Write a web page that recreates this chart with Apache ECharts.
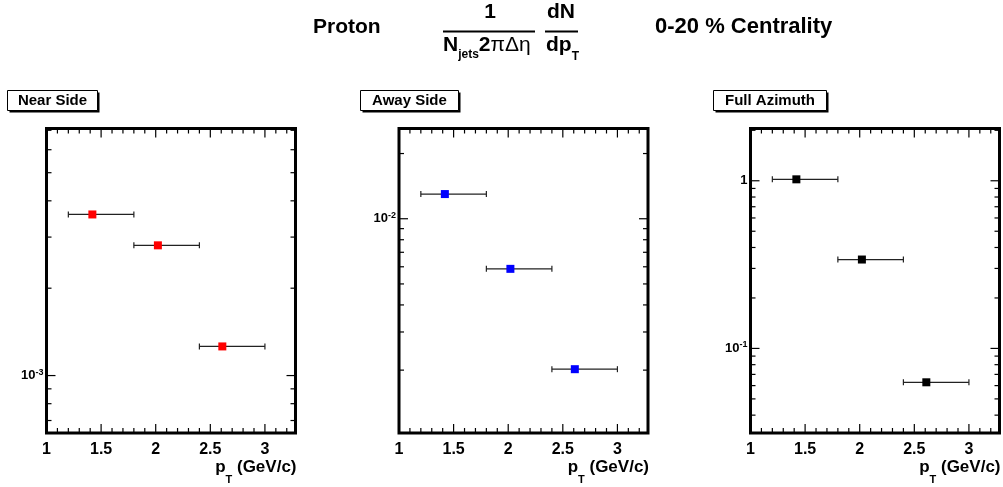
<!DOCTYPE html>
<html>
<head>
<meta charset="utf-8">
<script src="https://cdn.jsdelivr.net/npm/echarts@6/dist/echarts.min.js"></script>
<style>
html, body { margin: 0; padding: 0; background: #fff; }
#chart { width: 1003px; height: 487px; }
</style>
</head>
<body>
<div id="chart"></div>
<script>
// pT bins (GeV/c)
const ptCenter = [1.42, 2.02, 2.61];
const ptLow = [1.2, 1.8, 2.4];
const ptHigh = [1.8, 2.4, 3.0];

// 1/Njets 1/(2pi deta) dN/dpT per panel
const nearSide = [3.59e-3, 2.81e-3, 1.26e-3];
const awaySide = [1.30e-2, 5.87e-3, 2.02e-3];
const fullAzimuth = [1.02, 0.339, 0.0628];

const panelNames = ['Near Side', 'Away Side', 'Full Azimuth'];
const panelColors = ['#ff0000', '#0000ff', '#000000'];

const yRanges = [[6.34e-4, 7.1e-3], [1.025e-3, 2.61e-2], [0.0313, 2.05]];
const yMajorTicks = [[1e-3], [1e-2], [0.1, 1]];
const yMinorTicks = [
  [7e-4, 8e-4, 9e-4, 2e-3, 3e-3, 4e-3, 5e-3, 6e-3, 7e-3],
  [2e-3, 3e-3, 4e-3, 5e-3, 6e-3, 7e-3, 8e-3, 9e-3, 2e-2],
  [0.04, 0.05, 0.06, 0.07, 0.08, 0.09, 0.2, 0.3, 0.4, 0.5, 0.6, 0.7, 0.8, 0.9, 2]
];
const xMajorTicks = [1, 1.5, 2, 2.5, 3];
const xMinorTicks = [1.1, 1.2, 1.3, 1.4, 1.6, 1.7, 1.8, 1.9, 2.1, 2.2, 2.3, 2.4,
  2.6, 2.7, 2.8, 2.9, 3.1, 3.2];
const xMin = 1;
const xMax = 3.28;

const panelValues = [nearSide, awaySide, fullAzimuth];
const gridLefts = [46.5, 399, 750.5];
const FONT = 'Liberation Sans, Arial, Helvetica, sans-serif';

let chart = echarts.init(document.getElementById('chart'));

function renderErrorBar(params, api) {
  let y = api.value(2);
  let p1 = api.coord([api.value(0), y]);
  let p2 = api.coord([api.value(1), y]);
  let style = { stroke: '#222', lineWidth: 1.2 };
  return {
    type: 'group',
    children: [
      { type: 'line', shape: { x1: p1[0], y1: p1[1], x2: p2[0], y2: p2[1] }, style },
      { type: 'line', shape: { x1: p1[0], y1: p1[1] - 3, x2: p1[0], y2: p1[1] + 3 }, style },
      { type: 'line', shape: { x1: p2[0], y1: p2[1] - 3, x2: p2[0], y2: p2[1] + 3 }, style }
    ]
  };
}

function renderYTick(params, api) {
  let cs = params.coordSys;
  let y = api.coord([api.value(0), api.value(1)])[1];
  let len = api.value(2) ? 9 : 5;
  let style = { stroke: '#000', lineWidth: 1.2 };
  return {
    type: 'group',
    children: [
      { type: 'line', shape: { x1: cs.x, y1: y, x2: cs.x + len, y2: y }, style },
      { type: 'line', shape: { x1: cs.x + cs.width - len, y1: y, x2: cs.x + cs.width, y2: y }, style }
    ]
  };
}

function renderXTick(params, api) {
  let cs = params.coordSys;
  let x = api.coord([api.value(0), api.value(1)])[0];
  let len = api.value(2) ? 9 : 5;
  let style = { stroke: '#000', lineWidth: 1.2 };
  let bottom = cs.y + cs.height;
  return {
    type: 'group',
    children: [
      { type: 'line', shape: { x1: x, y1: bottom, x2: x, y2: bottom - len }, style },
      { type: 'line', shape: { x1: x, y1: cs.y, x2: x, y2: cs.y + len }, style }
    ]
  };
}

function yLabel(v) {
  let e = Math.log10(v);
  let r = Math.round(e);
  if (Math.abs(e - r) > 1e-6) return '';
  if (r === 0) return '{b|1}';
  return '{b|10}{s|' + r + '}';
}

function xLabel(v) {
  for (let t of xMajorTicks) {
    if (Math.abs(v - t) < 1e-6) return String(t);
  }
  return '';
}

let grid = [], xAxis = [], yAxis = [], series = [], graphic = [];

panelValues.forEach((vals, i) => {
  grid.push({
    left: gridLefts[i], top: 128.5, width: 249, height: 304.5,
    show: true, borderColor: '#000', borderWidth: 3, backgroundColor: 'transparent',
    containLabel: false, outerBoundsMode: 'none'
  });
  xAxis.push({
    type: 'value', gridIndex: i, min: xMin, max: xMax, interval: 0.5,
    axisLine: { show: false }, axisTick: { show: false }, splitLine: { show: false },
    axisLabel: {
      margin: 9, color: '#000', fontFamily: FONT, fontWeight: 'bold', fontSize: 16,
      formatter: xLabel
    }
  });
  yAxis.push({
    type: 'log', logBase: 10, gridIndex: i, min: yRanges[i][0], max: yRanges[i][1],
    axisLine: { show: false }, axisTick: { show: false }, splitLine: { show: false },
    axisLabel: {
      margin: 3, color: '#000', fontFamily: FONT, fontWeight: 'bold',
      formatter: yLabel,
      rich: {
        b: { fontSize: 13, fontWeight: 'bold', fontFamily: FONT, color: '#000', lineHeight: 16 },
        s: { fontSize: 9, fontWeight: 'bold', fontFamily: FONT, color: '#000', verticalAlign: 'top', lineHeight: 16 }
      }
    }
  });

  series.push({
    type: 'custom', xAxisIndex: i, yAxisIndex: i, silent: true, z: 3,
    renderItem: renderErrorBar, encode: { x: [0, 1], y: 2 },
    data: vals.map((v, k) => [ptLow[k], ptHigh[k], v])
  });
  series.push({
    type: 'scatter', xAxisIndex: i, yAxisIndex: i, z: 4,
    symbol: 'rect', symbolSize: 8, itemStyle: { color: panelColors[i], opacity: 1 },
    data: vals.map((v, k) => [ptCenter[k], v])
  });
  series.push({
    type: 'custom', xAxisIndex: i, yAxisIndex: i, silent: true, z: 5,
    renderItem: renderYTick, encode: { x: 0, y: 1 },
    data: yMajorTicks[i].map(v => [xMin, v, 1]).concat(yMinorTicks[i].map(v => [xMin, v, 0]))
  });
  series.push({
    type: 'custom', xAxisIndex: i, yAxisIndex: i, silent: true, z: 5,
    renderItem: renderXTick, encode: { x: 0, y: 1 },
    data: xMajorTicks.map(v => [v, yRanges[i][0], 1]).concat(xMinorTicks.map(v => [v, yRanges[i][0], 0]))
  });

  // x axis title
  graphic.push({
    type: 'text', right: 1003 - (gridLefts[i] + 250), top: 459,
    style: {
      text: '{a|p}{t|T}{a| (GeV/c)}', fill: '#000',
      rich: {
        a: { fontSize: 17, fontWeight: 'bold', fontFamily: FONT, lineHeight: 20, verticalAlign: 'top' },
        t: { fontSize: 11, fontWeight: 'bold', fontFamily: FONT, lineHeight: 20, verticalAlign: 'bottom', padding: [0, 0, -6, 0] }
      }
    }
  });
});

// panel label boxes
const boxSpecs = [[7, 90, 90], [360, 90, 98], [713, 90, 113]];
boxSpecs.forEach((b, i) => {
  graphic.push({
    type: 'group', left: b[0], top: b[1],
    children: [
      { type: 'rect', shape: { x: 2, y: 2, width: b[2], height: 20 }, style: { fill: '#000' } },
      { type: 'rect', shape: { x: 0, y: 0, width: b[2], height: 20 }, style: { fill: '#fff', stroke: '#000', lineWidth: 1 } },
      {
        type: 'text', x: b[2] / 2, y: 10.5,
        style: { text: panelNames[i], fill: '#000', font: 'bold 15px ' + FONT, align: 'center', verticalAlign: 'middle' }
      }
    ]
  });
});

// title
const titleFont = 'bold 21px ' + FONT;
graphic.push(
  { type: 'text', x: 313, y: 27, style: { text: 'Proton', font: titleFont, fill: '#000', verticalAlign: 'middle' } },
  { type: 'text', x: 490, y: 12, style: { text: '1', font: titleFont, fill: '#000', align: 'center', verticalAlign: 'middle' } },
  { type: 'line', shape: { x1: 443, y1: 31.5, x2: 535, y2: 31.5 }, style: { stroke: '#000', lineWidth: 2 } },
  {
    type: 'text', x: 443, y: 35,
    style: {
      text: '{n|N}{s|jets}{n|2}{g|πΔη}', fill: '#000',
      rich: {
        n: { fontSize: 21, fontWeight: 'bold', fontFamily: FONT, lineHeight: 22, verticalAlign: 'top' },
        s: { fontSize: 12, fontWeight: 'bold', fontFamily: FONT, lineHeight: 22, verticalAlign: 'bottom', padding: [0, 0, -4, 0] },
        g: { fontSize: 21, fontFamily: FONT, lineHeight: 22, verticalAlign: 'top' }
      }
    }
  },
  { type: 'text', x: 561, y: 12, style: { text: 'dN', font: titleFont, fill: '#000', align: 'center', verticalAlign: 'middle' } },
  { type: 'line', shape: { x1: 545, y1: 31.5, x2: 578, y2: 31.5 }, style: { stroke: '#000', lineWidth: 2 } },
  {
    type: 'text', x: 546, y: 35,
    style: {
      text: '{n|dp}{s|T}', fill: '#000',
      rich: {
        n: { fontSize: 21, fontWeight: 'bold', fontFamily: FONT, lineHeight: 22, verticalAlign: 'top' },
        s: { fontSize: 12, fontWeight: 'bold', fontFamily: FONT, lineHeight: 22, verticalAlign: 'bottom', padding: [0, 0, -6, 0] }
      }
    }
  },
  { type: 'text', x: 655, y: 27, style: { text: '0-20 % Centrality', font: 'bold 22px ' + FONT, fill: '#000', verticalAlign: 'middle' } }
);

chart.setOption({
  animation: false,
  grid, xAxis, yAxis, series, graphic
});
</script>
</body>
</html>
